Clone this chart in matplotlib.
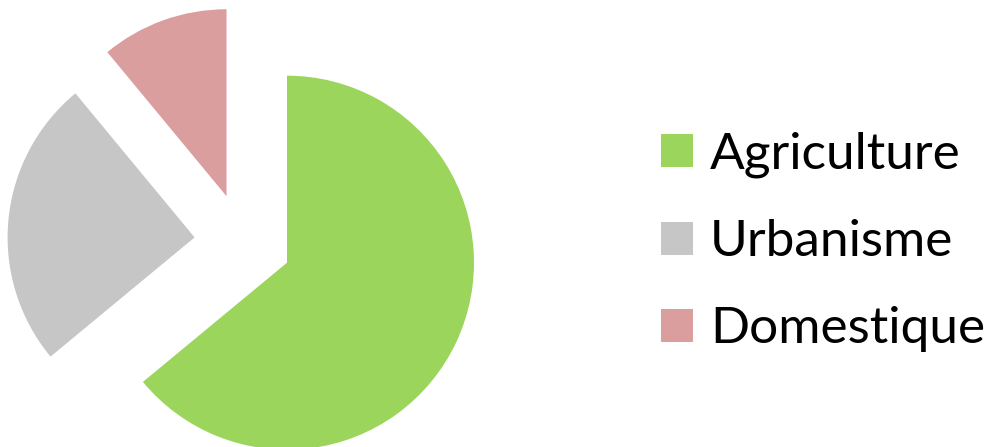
import matplotlib.pyplot as plt

labels = ['Agriculture', 'Urbanisme', 'Domestique']
values = [64, 25, 11]
colors = ['#9bd55b', '#c6c6c6', '#da9e9e']
explode = [0.26, 0.26, 0.26]

fig = plt.figure(figsize=(9.99, 4.47), dpi=100)
ax = fig.add_axes([0, 0, 500 / 999, 1])
wedges, _ = ax.pie(values, colors=colors, explode=explode, startangle=90,
                   counterclock=False)
# 187 px per unit, pie centre at (243, 242) from top-left
ax.set_xlim(-243 / 187, (500 - 243) / 187)
ax.set_ylim(-(447 - 242) / 187, 242 / 187)

plt.rcParams['font.family'] = ['Lato', 'DejaVu Sans']
fig.legend(wedges, labels, loc='center left', bbox_to_anchor=(661 / 999, 205 / 447),
           frameon=False, fontsize=37, handlelength=0.62, handleheight=0.62,
           handletextpad=0.33, labelspacing=0.8, borderpad=0, borderaxespad=0)

fig.savefig('out.png', dpi=100)
